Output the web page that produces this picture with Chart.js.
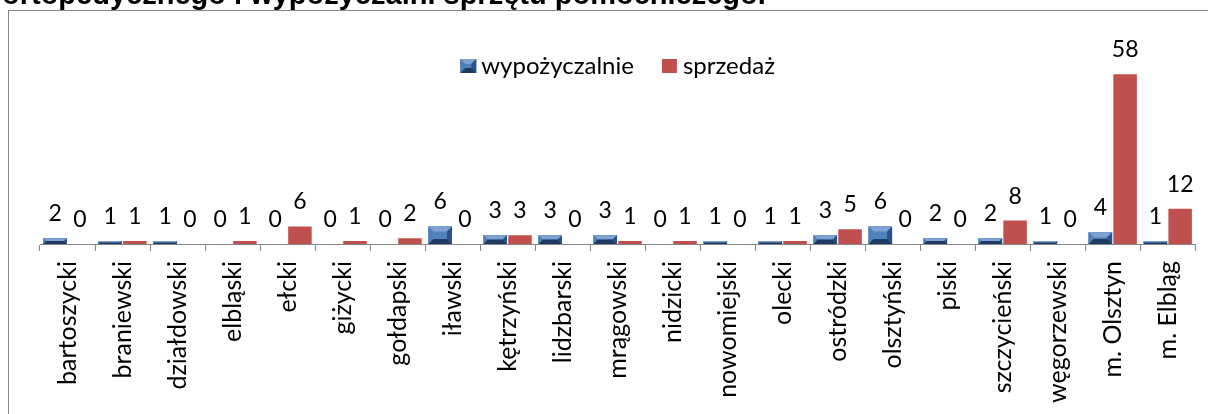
<!DOCTYPE html>
<html>
<head>
<meta charset="utf-8">
<script src="https://cdn.jsdelivr.net/npm/chart.js@4"></script>
<style>
  html, body { margin:0; padding:0; background:#fff; width:1208px; height:414px; overflow:hidden; }
  #frame { position:absolute; left:8px; top:10px; width:1300px; height:600px; border:1px solid #868686; box-sizing:border-box; }
  #title { position:absolute; left:2px; top:-20px; font:bold 29px "Liberation Sans", Arial, sans-serif; line-height:29px; color:#000; white-space:nowrap; z-index:3; }
  #c { position:absolute; left:0; top:0; z-index:2; }
</style>
</head>
<body>
<div id="frame"></div>
<div id="title">ortopedycznego i wypożyczalni sprzętu pomocniczego.</div>
<canvas id="c" width="1208" height="414"></canvas>
<script>
const categories = ['bartoszycki','braniewski','działdowski','elbląski','ełcki','giżycki','gołdapski','iławski','kętrzyński','lidzbarski','mrągowski','nidzicki','nowomiejski','olecki','ostródzki','olsztyński','piski','szczycieński','węgorzewski','m. Olsztyn','m. Elbląg'];
const seriesNames = ['wypożyczalnie','sprzedaż'];
const wypozyczalnie = [2,1,1,0,0,0,0,6,3,3,3,0,1,1,3,6,2,2,1,4,1];
const sprzedaz      = [0,1,0,1,6,1,2,0,3,0,1,1,0,1,5,0,0,8,0,58,12];
const yMin = 0, yMax = 70;

const BLUE = '#4f81bd', RED = '#c0504d';
const FONT = 'Lato, "Open Sans", sans-serif';

function bevel(ctx, l, t, r, b) {
  const w = r - l, h = b - t;
  const d = Math.max(0, Math.min(5, w / 2, h / 2));
  ctx.fillStyle = BLUE; ctx.fillRect(l, t, w, h);
  if (d <= 0.5) return;
  const face = (pts, col) => { ctx.beginPath(); ctx.moveTo(pts[0][0], pts[0][1]); for (let i=1;i<pts.length;i++) ctx.lineTo(pts[i][0], pts[i][1]); ctx.closePath(); ctx.fillStyle = col; ctx.fill(); };
  face([[l,t],[r,t],[r-d,t+d],[l+d,t+d]], '#7ea3d2');
  face([[l,t],[l+d,t+d],[l+d,b-d],[l,b]], '#4f7fb8');
  face([[r,t],[r,b],[r-d,b-d],[r-d,t+d]], '#2a5285');
  face([[l,b],[l+d,b-d],[r-d,b-d],[r,b]], '#1d3a60');
}

const decor = {
  id: 'decor',
  afterDatasetsDraw(chart) {
    const ctx = chart.ctx;
    ctx.save();
    const m0 = chart.getDatasetMeta(0);
    m0.data.forEach(el => {
      const p = el.getProps(['x','y','base','width'], true);
      const l = p.x - p.width/2, r = p.x + p.width/2;
      const t = Math.min(p.y, p.base), b = Math.max(p.y, p.base);
      if (b - t > 0.5) bevel(ctx, l, t, r, b);
    });
    ctx.fillStyle = '#000';
    ctx.font = '23px ' + FONT;
    ctx.textAlign = 'center';
    ctx.textBaseline = 'alphabetic';
    chart.data.datasets.forEach((ds, di) => {
      const meta = chart.getDatasetMeta(di);
      meta.data.forEach((el, i) => {
        const p = el.getProps(['x','y'], true);
        ctx.fillText(String(ds.data[i]), p.x, p.y - 17);
      });
    });
    const ca = chart.chartArea;
    ctx.font = '24px ' + FONT;
    ctx.textAlign = 'left';
    const box = 15, gapText = 6, gapItem = 28;
    const widths = seriesNames.map(s => ctx.measureText(s).width);
    const total = widths.reduce((a,w)=>a + box + gapText + w, 0) + gapItem*(seriesNames.length-1);
    let x = (ca.left + ca.right)/2 - total/2;
    const baseY = 74;
    seriesNames.forEach((s, i) => {
      if (i === 0) bevel(ctx, x, baseY - 15, x + box + 1, baseY - 1);
      else { ctx.fillStyle = RED; ctx.fillRect(x, baseY - 15, box, 14); }
      ctx.fillStyle = '#000';
      ctx.fillText(s, x + box + gapText, baseY);
      x += box + gapText + widths[i] + gapItem;
    });
    ctx.restore();
  }
};

new Chart(document.getElementById('c'), {
  type: 'bar',
  data: {
    labels: categories,
    datasets: [
      { label: seriesNames[0], data: wypozyczalnie, backgroundColor: BLUE, barPercentage: 0.95, categoryPercentage: 0.9 },
      { label: seriesNames[1], data: sprzedaz, backgroundColor: RED, barPercentage: 0.95, categoryPercentage: 0.9 }
    ]
  },
  options: {
    responsive: false,
    animation: false,
    layout: { padding: { left: 40, right: 10, top: 39, bottom: 0 } },
    plugins: { legend: { display: false }, tooltip: { enabled: false } },
    scales: {
      x: {
        grid: { offset: true, drawOnChartArea: false, tickLength: 7, color: '#868686', lineWidth: 1 },
        border: { color: '#868686', width: 1 },
        ticks: { color: '#000', font: { family: FONT, size: 25 }, minRotation: 90, maxRotation: 90, padding: 10, autoSkip: false },
        afterFit(s) { s.height = 414 - 244; }
      },
      y: { display: false, min: yMin, max: yMax }
    }
  },
  plugins: [decor]
});
</script>
</body>
</html>
